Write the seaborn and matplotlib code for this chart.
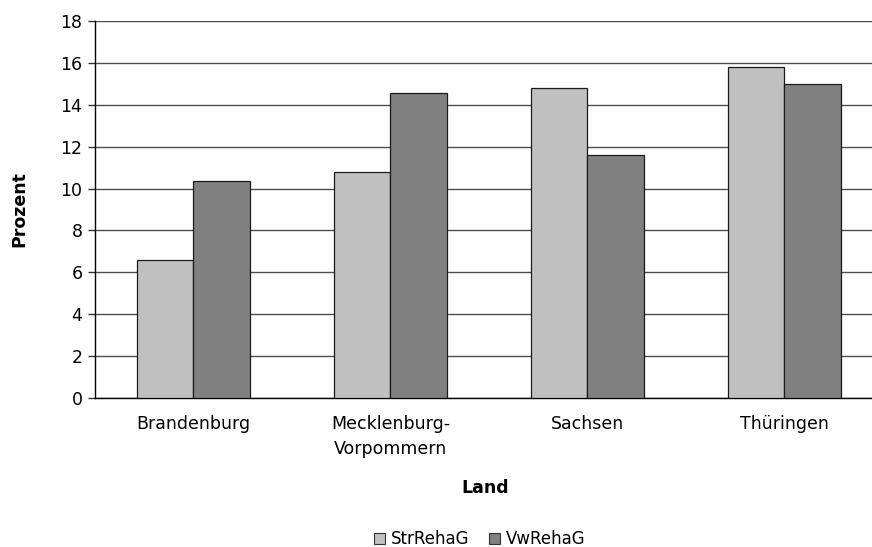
import matplotlib
matplotlib.use("Agg")
import matplotlib.pyplot as plt
import seaborn as sns
import pandas as pd

laender = ["Brandenburg", "Mecklenburg-\nVorpommern", "Sachsen", "Thüringen"]
str_reha = [6.6, 10.8, 14.8, 15.8]
vw_reha = [10.35, 14.55, 11.6, 15.0]
serien = ["StrRehaG", "VwRehaG"]
farben = ["#c0c0c0", "#808080"]
y_ticks = [0, 2, 4, 6, 8, 10, 12, 14, 16, 18]

df = pd.DataFrame({
    "Land": laender * 2,
    "Prozent": str_reha + vw_reha,
    "Gesetz": [serien[0]] * len(laender) + [serien[1]] * len(laender),
})

sns.set_theme(style="white")
plt.rcParams["font.family"] = ["DejaVu Sans"]
plt.rcParams["text.color"] = "black"
plt.rcParams["axes.labelcolor"] = "black"
plt.rcParams["xtick.color"] = "black"
plt.rcParams["ytick.color"] = "black"

fig = plt.figure(figsize=(8.72, 5.47), dpi=100)
# plot area runs past the right edge of the figure
ax = fig.add_axes([0.1089, 0.2724, 0.9037, 0.6892])

sns.barplot(data=df, x="Land", y="Prozent", hue="Gesetz", palette=farben,
            width=0.57, edgecolor="#1a1a1a", linewidth=0.9, ax=ax,
            saturation=1, legend=True, zorder=3)

ax.set_ylim(0, 18)
ax.set_xlim(-0.5, 3.5)
ax.set_yticks(y_ticks)
ax.yaxis.grid(True, color="#4d4d4d", linewidth=1.0, zorder=0)
ax.set_axisbelow(True)
for s in ["top", "right"]:
    ax.spines[s].set_visible(False)
ax.spines["left"].set_color("black")
ax.spines["left"].set_linewidth(1.0)
ax.spines["bottom"].set_color("black")
ax.spines["bottom"].set_linewidth(1.0)
ax.tick_params(axis="y", which="both", left=True, length=5, width=1.0,
               color="#333333", labelsize=12.5, pad=4)
ax.tick_params(axis="x", bottom=False, labelsize=12.5, pad=6.5)
for lbl in ax.get_xticklabels():
    lbl.set_linespacing(1.45)

ax.set_ylabel("Prozent", fontsize=12.5, fontweight="bold")
ax.yaxis.set_label_coords(-0.0846, 0.5)
ax.set_xlabel("Land", fontsize=12.5, fontweight="bold")
ax.xaxis.set_label_coords(0.495, -0.216)

leg = ax.legend(loc="center", bbox_to_anchor=(0.4886, -0.374), ncol=2,
                frameon=False, fontsize=12, handlelength=0.65, handleheight=0.65,
                handletextpad=0.35, columnspacing=1.2, borderaxespad=0)
for h in leg.legend_handles:
    h.set_edgecolor("#333333")
    h.set_linewidth(0.8)

fig.savefig("out.png", dpi=100, facecolor="white")
